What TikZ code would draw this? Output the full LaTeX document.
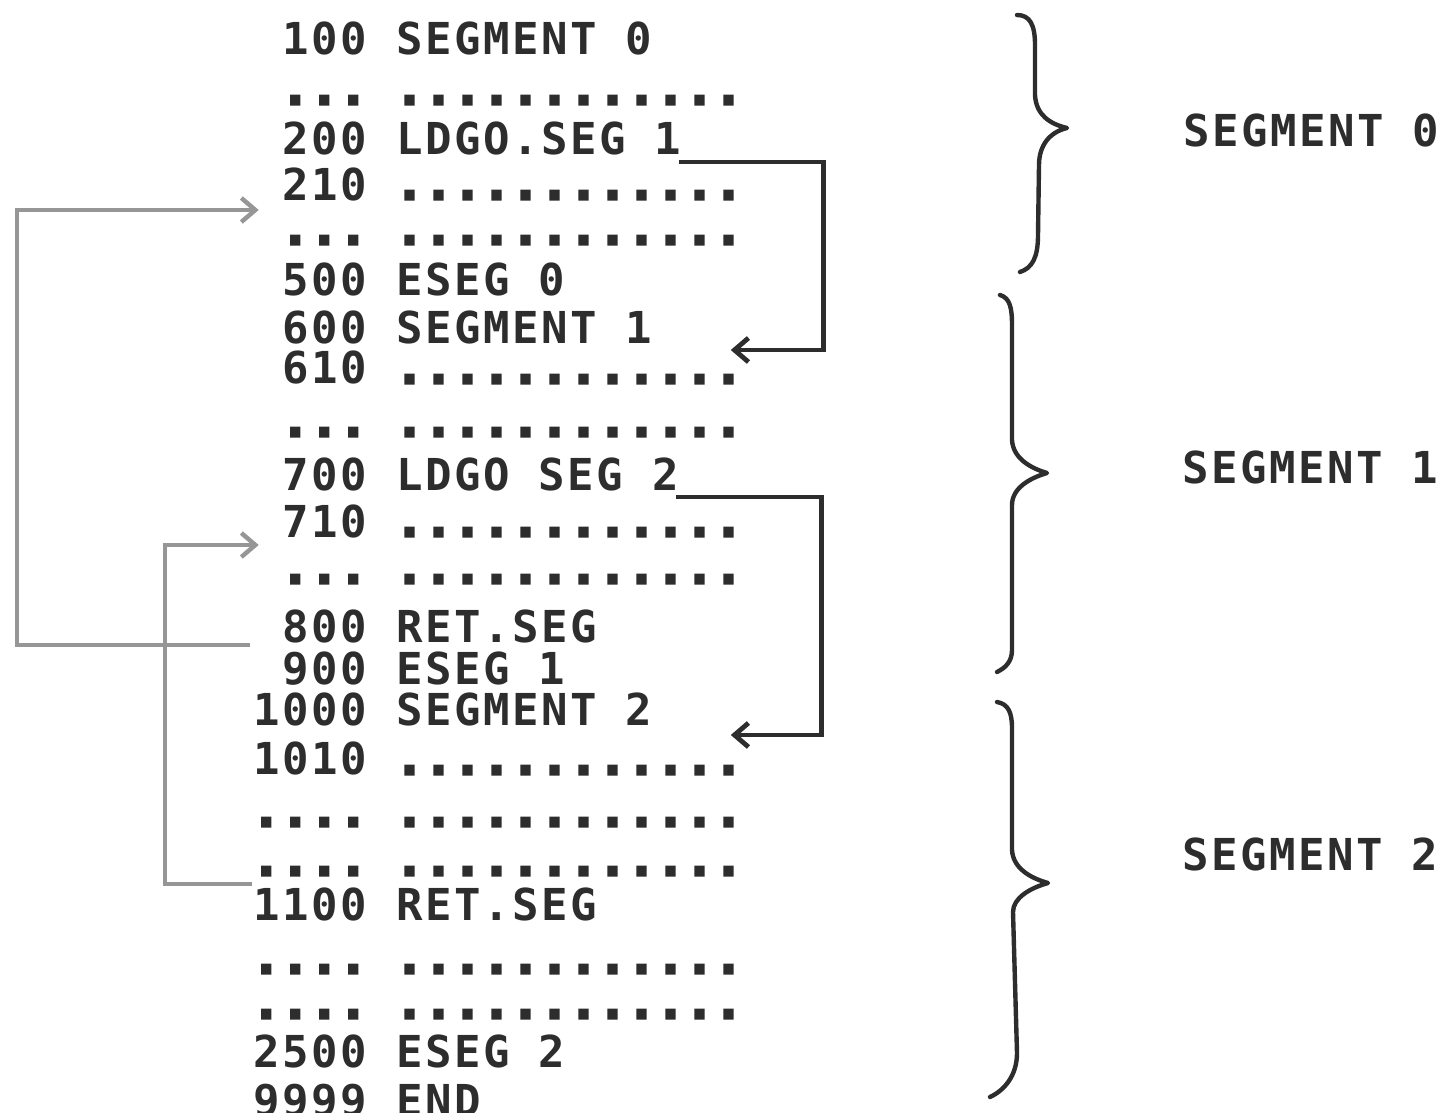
\documentclass[tikz,border=0pt]{standalone}
\usepackage{fontspec}
\usepackage{tikz}
\usetikzlibrary{arrows.meta, calc}
\newfontfamily\printfont{DejaVu Sans Mono}[LetterSpace=5.7]
\newfontfamily\dotsfont{DejaVu Sans Mono}[LetterSpace=5.7, FakeBold=7]
\definecolor{inkDark}{RGB}{45,45,45}
\definecolor{inkGray}{RGB}{150,150,150}
\tikzset{
  ls/num/.style={anchor=base east, inner sep=0pt, text=inkDark,
    font=\printfont\bfseries\fontsize{22}{26}\selectfont},
  ls/txt/.style={ls/num, anchor=base west},
  ls/dots/.style={ls/num, font=\dotsfont\bfseries\fontsize{22}{26}\selectfont},
  ls/dott/.style={ls/dots, anchor=base west},
  ls/seg/.style={ls/txt},
  ls/jump/.style={draw=inkDark, line width=2.4pt, line join=miter,
    -{Straight Barb[length=7pt,width=12pt]}},
  ls/ret/.style={draw=inkGray, line width=2.2pt,
    -{Straight Barb[length=7pt,width=12pt]}},
  ls/brace/.style={draw=inkDark, line width=2.2pt, line cap=round,
    line join=round}
}

\begin{document}
\begin{tikzpicture}[x=0.5pt, y=-0.5pt]
  \useasboundingbox (0,0) rectangle (1440,1113);

  % segment 0
  \node[ls/num] (n100) at (367,55) {100};   \node[ls/txt] (t100) at (396,55) {SEGMENT 0};
  \node[ls/dots] (nd1) at (367,104) {...};  \node[ls/dott] (td1) at (396,104) {............};
  \node[ls/num] (n200) at (367,155) {200};  \node[ls/txt] (t200) at (396,155) {LDGO.SEG 1};
  \node[ls/num] (n210) at (367,200) {210};  \node[ls/dott] (t210) at (396,199) {............};
  \node[ls/dots] (nd2) at (367,244) {...};  \node[ls/dott] (td2) at (396,244) {............};
  \node[ls/num] (n500) at (367,295) {500};  \node[ls/txt] (t500) at (396,295) {ESEG 0};
  % segment 1
  \node[ls/num] (n600) at (367,343) {600};  \node[ls/txt] (t600) at (396,343) {SEGMENT 1};
  \node[ls/num] (n610) at (367,383) {610};  \node[ls/dott] (t610) at (396,383) {............};
  \node[ls/dots] (nd3) at (367,436) {...};  \node[ls/dott] (td3) at (396,436) {............};
  \node[ls/num] (n700) at (367,490) {700};  \node[ls/txt] (t700) at (396,490) {LDGO SEG 2};
  \node[ls/num] (n710) at (367,537) {710};  \node[ls/dott] (t710) at (396,536) {............};
  \node[ls/dots] (nd4) at (367,583) {...};  \node[ls/dott] (td4) at (396,583) {............};
  \node[ls/num] (n800) at (367,642) {800};  \node[ls/txt] (t800) at (396,642) {RET.SEG};
  \node[ls/num] (n900) at (367,684) {900};  \node[ls/txt] (t900) at (396,684) {ESEG 1};
  % segment 2
  \node[ls/num] (n1000) at (367,725) {1000}; \node[ls/txt] (t1000) at (396,725) {SEGMENT 2};
  \node[ls/num] (n1010) at (367,774) {1010}; \node[ls/dott] (t1010) at (396,774) {............};
  \node[ls/dots] (nd5) at (367,826) {....}; \node[ls/dott] (td5) at (396,826) {............};
  \node[ls/dots] (nd6) at (367,875) {....}; \node[ls/dott] (td6) at (396,875) {............};
  \node[ls/num] (n1100) at (367,920) {1100}; \node[ls/txt] (t1100) at (396,920) {RET.SEG};
  \node[ls/dots] (nd7) at (367,973) {....}; \node[ls/dott] (td7) at (396,973) {............};
  \node[ls/dots] (nd8) at (367,1018) {....}; \node[ls/dott] (td8) at (396,1018) {............};
  \node[ls/num] (n2500) at (367,1067) {2500}; \node[ls/txt] (t2500) at (396,1067) {ESEG 2};
  \node[ls/num] (n9999) at (367,1116) {9999}; \node[ls/txt] (t9999) at (396,1116) {END};

  % segment labels
  \node[ls/seg] (s0) at (1183,147) {SEGMENT 0};
  \node[ls/seg] (s1) at (1182,483) {SEGMENT 1};
  \node[ls/seg] (s2) at (1182,870) {SEGMENT 2};

  % braces
  \draw[ls/brace] (1017,15) .. controls (1030,15) and (1035,25) .. (1035,45)
    -- (1035,95) .. controls (1036,115) and (1050,124) .. (1067,128)
    .. controls (1050,132) and (1039,145) .. (1039,165)
    -- (1038,235) .. controls (1038,258) and (1032,268) .. (1020,272);
  \draw[ls/brace] (1000,295) .. controls (1010,298) and (1012,308) .. (1012,325)
    -- (1012,440) .. controls (1013,458) and (1030,468) .. (1047,473)
    .. controls (1030,478) and (1012,488) .. (1012,505)
    -- (1012,650) .. controls (1012,662) and (1005,668) .. (997,672);
  \draw[ls/brace] (997,702) .. controls (1008,704) and (1012,712) .. (1012,728)
    -- (1012,850) .. controls (1013,868) and (1030,878) .. (1048,883)
    .. controls (1030,888) and (1013,898) .. (1013,912)
    -- (1017,1053) .. controls (1017,1075) and (1005,1090) .. (990,1097);

  % load-and-go jumps
  \draw[ls/jump] ($(t200.base east)+(-3,7)$) -- ++(145,0) |- ($(t600.base east)+(78,7)$);
  \draw[ls/jump] ($(t700.base east)+(-3,7)$) -- ++(145,0) |- ($(t1000.base east)+(78,10)$);

  % returns
  \draw[ls/ret] ($(n800.base west)+(-32,3)$) -- ++(-233,0) |- ($(n210.base west)+(-23,10)$);
  \draw[ls/ret] ($(n1100.base west)+(-1,-36)$) -- ++(-87,0) |- ($(n710.base west)+(-23,8)$);
\end{tikzpicture}
\end{document}
